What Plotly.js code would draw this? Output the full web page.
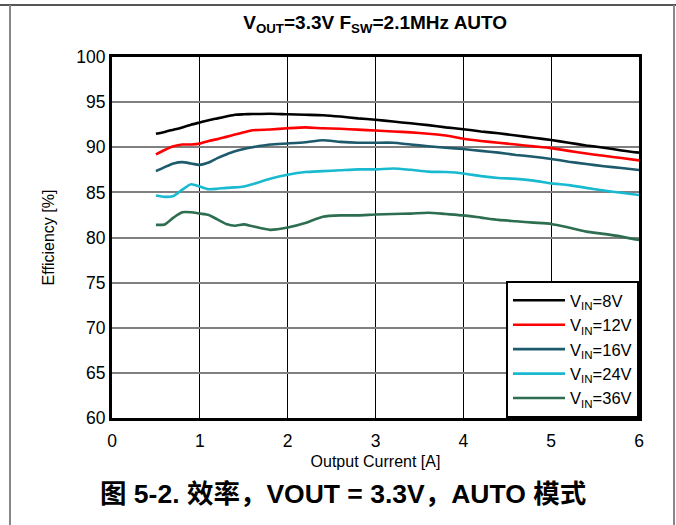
<!DOCTYPE html>
<html>
<head>
<meta charset="utf-8">
<script src="https://cdn.plot.ly/plotly-3.0.1.min.js"></script>
<style>
  html, body { margin: 0; padding: 0; background: #fff; }
  #wrap { position: relative; width: 676px; height: 525px; }
  #plot { width: 676px; height: 525px; }
  .frame-top { position: absolute; left: 0; top: 4px; width: 676px; height: 2px; background: #555; }
  .frame-left { position: absolute; left: 9px; top: 5px; width: 2px; height: 520px; background: #888; }
  .frame-right { position: absolute; left: 673px; top: 5px; width: 2px; height: 520px; background: #888; }
</style>
</head>
<body>
<div id="wrap">
  <div id="plot"></div>
  <div class="frame-top"></div>
  <div class="frame-left"></div>
  <div class="frame-right"></div>
</div>
<script>
// Output current [A]
const current = [0.5,0.6,0.7,0.8,0.9,1.0,1.1,1.2,1.3,1.4,1.5,1.6,1.8,2.0,2.2,2.4,2.6,2.8,3.0,3.2,3.4,3.6,3.8,4.0,4.2,4.4,4.6,4.8,5.0,5.2,5.4,5.6,5.8,6.0];

// Efficiency [%] per input voltage
const eff8V  = [91.5,91.7,91.95,92.2,92.5,92.75,93.0,93.2,93.4,93.6,93.65,93.68,93.72,93.65,93.6,93.55,93.4,93.2,93.05,92.85,92.65,92.45,92.2,92.0,91.75,91.55,91.3,91.05,90.8,90.5,90.2,89.95,89.65,89.4];
const eff12V = [89.2,89.7,90.1,90.3,90.3,90.4,90.7,90.9,91.15,91.4,91.65,91.88,91.97,92.1,92.2,92.1,92.05,91.95,91.85,91.75,91.65,91.5,91.3,90.95,90.7,90.5,90.3,90.1,89.9,89.6,89.3,89.05,88.8,88.55];
const eff16V = [87.35,87.8,88.2,88.35,88.2,88.05,88.3,88.8,89.2,89.55,89.8,90.0,90.3,90.42,90.55,90.78,90.6,90.5,90.5,90.5,90.3,90.12,89.95,89.8,89.6,89.4,89.15,88.95,88.7,88.4,88.15,87.9,87.7,87.48];
const eff24V = [84.65,84.5,84.6,85.3,85.9,85.65,85.35,85.4,85.5,85.55,85.65,85.9,86.5,86.95,87.25,87.35,87.45,87.55,87.55,87.65,87.5,87.3,87.25,87.1,86.8,86.6,86.5,86.3,86.0,85.8,85.5,85.2,84.95,84.7];
const eff36V = [81.4,81.45,82.2,82.8,82.8,82.65,82.5,82.0,81.5,81.3,81.45,81.25,80.85,81.1,81.6,82.3,82.45,82.45,82.55,82.6,82.65,82.75,82.6,82.45,82.2,81.95,81.8,81.65,81.5,81.1,80.65,80.4,80.1,79.72];

const seriesNames = ['V<sub>IN</sub>=8V','V<sub>IN</sub>=12V','V<sub>IN</sub>=16V','V<sub>IN</sub>=24V','V<sub>IN</sub>=36V'];
const seriesData = [eff8V, eff12V, eff16V, eff24V, eff36V];
const seriesColors = ['#000000','#ff0000','#1d5a6c','#19b9d0','#2c6e4f'];

const xTicks = [0,1,2,3,4,5,6];
const yTicks = [60,65,70,75,80,85,90,95,100];

const FONT = 'Liberation Sans, Arial, sans-serif';

const traces = seriesData.map((y, i) => ({
  x: current,
  y: y,
  type: 'scatter',
  mode: 'lines',
  name: seriesNames[i],
  line: { color: seriesColors[i], width: 2.6, shape: 'spline', smoothing: 0.6 }
}));

const layout = {
  width: 676,
  height: 525,
  margin: { l: 112, r: 37, t: 57, b: 107 },
  paper_bgcolor: '#ffffff',
  plot_bgcolor: '#ffffff',
  font: { family: FONT, color: '#000', size: 16 },
  title: {
    text: '<b>V<sub>OUT</sub>=3.3V F<sub>SW</sub>=2.1MHz AUTO</b>',
    font: { family: FONT, size: 19, color: '#000' },
    x: 0.5550, xanchor: 'center', y: 0.957, yanchor: 'middle'
  },
  xaxis: {
    range: [0, 6],
    tickvals: xTicks,
    ticktext: xTicks.map(String),
    ticks: 'outside',
    ticklen: 5,
    tickcolor: 'rgba(0,0,0,0)',
    showgrid: true,
    gridcolor: '#000000',
    gridwidth: 1,
    showline: true,
    linecolor: '#000',
    linewidth: 3,
    mirror: true,
    zeroline: false,
    tickfont: { family: FONT, size: 17.5, color: '#000' },
    title: { text: 'Output Current [A]', font: { family: FONT, size: 16, color: '#000' }, standoff: 6 }
  },
  yaxis: {
    range: [60, 100],
    tickvals: yTicks,
    ticktext: yTicks.map(String),
    ticks: '',
    showgrid: true,
    gridcolor: '#808080',
    gridwidth: 2,
    showline: true,
    linecolor: '#000',
    linewidth: 3,
    mirror: true,
    zeroline: false,
    tickfont: { family: FONT, size: 17.5, color: '#000' },
    title: { text: 'Efficiency [%]', font: { family: FONT, size: 16, color: '#000' }, standoff: 18 }
  },
  showlegend: true,
  legend: {
    x: 1, xanchor: 'right', y: 0, yanchor: 'bottom',
    bgcolor: '#ffffff',
    bordercolor: '#000',
    borderwidth: 2,
    font: { family: FONT, size: 16.5, color: '#000' },
    tracegroupgap: 0,
    itemwidth: 52
  },
  annotations: [{
    text: '<b>图 5-2. 效率，VOUT = 3.3V，AUTO 模式</b>',
    xref: 'paper', yref: 'paper',
    x: 0.438, xanchor: 'center',
    y: -0.21, yanchor: 'middle',
    showarrow: false,
    font: { family: 'Liberation Sans, Noto Sans CJK SC, sans-serif', size: 26.5, color: '#000' }
  }]
};

Plotly.newPlot('plot', traces, layout, { displayModeBar: false, staticPlot: true });
</script>
</body>
</html>
